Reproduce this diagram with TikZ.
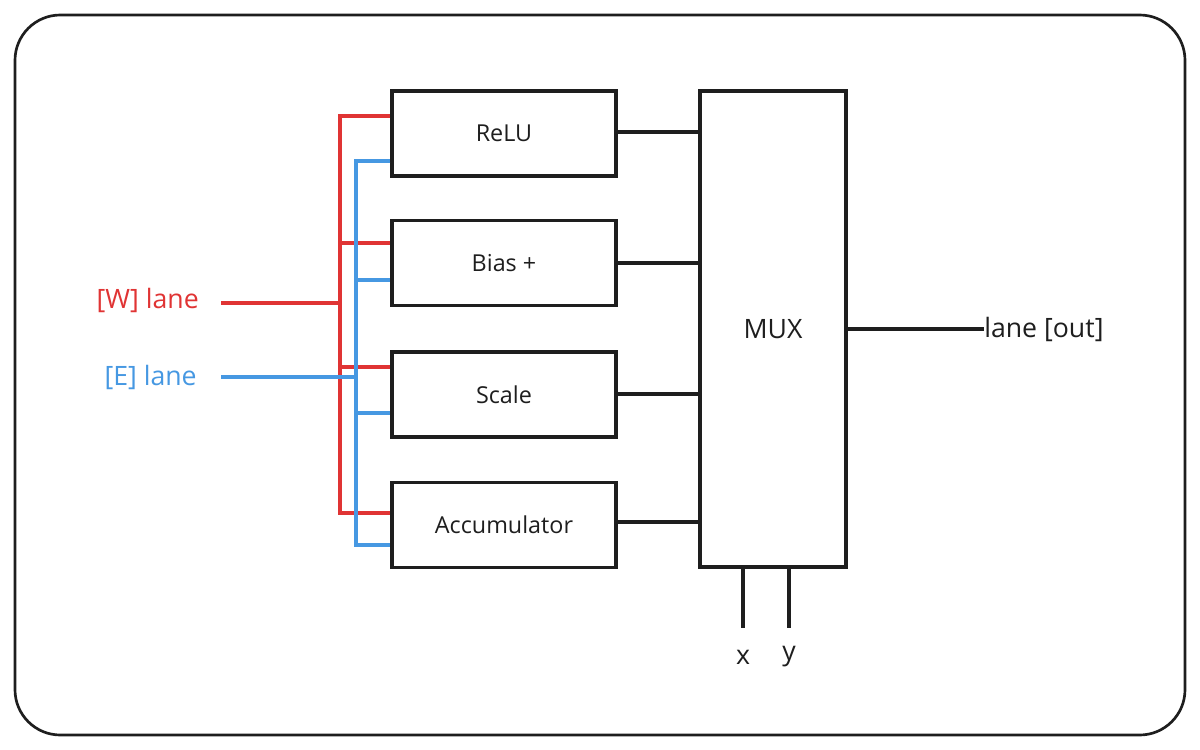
\documentclass[tikz,border=0pt]{standalone}
\usepackage{fontspec}
\setmainfont{Open Sans}
\definecolor{wred}{RGB}{224,52,52}
\definecolor{eblue}{RGB}{70,152,226}
\definecolor{ink}{RGB}{30,30,30}
\begin{document}
\begin{tikzpicture}[x=0.75pt,y=-0.75pt,
  box/.style={draw=ink,line width=2.6pt,minimum width=168pt,minimum height=63.5pt,inner sep=0pt,font=\fontsize{17.5}{20}\selectfont,text=ink},
  mux/.style={draw=ink,line width=2.6pt,minimum width=109.5pt,minimum height=357pt,inner sep=0pt,font=\fontsize{20}{24}\selectfont,text=ink},
  wire/.style={ink,line width=2.6pt},
  wline/.style={wred,line width=2.5pt},
  eline/.style={eblue,line width=2.5pt},
  lbl/.style={font=\fontsize{20}{24}\selectfont,inner sep=0pt}]
\useasboundingbox (0,0) rectangle (1200,750);
\draw[ink,line width=2pt,rounded corners=34pt] (15,15) rectangle (1185,735);

\node[box] (relu) at (504,133.5) {ReLU};
\node[box] (bias) at (504,263) {Bias +};
\node[box] (scale) at (504,394.5) {Scale};
\node[box] (acc) at (504,525) {Accumulator};
\node[mux] (mux) at (773,329) {MUX};

\node[lbl,text=wred,anchor=east] (wlab) at (199,300) {[W] lane};
\node[lbl,text=eblue,anchor=east] (elab) at (197,377) {[E] lane};
\node[lbl,text=ink,anchor=west] (outlab) at (984,329) {lane [out]};
\node[lbl,text=ink] (xlab) at (743,657) {x};
\node[lbl,text=ink] (ylab) at (789,657) {y};

% red bus
\coordinate (ws) at (221,303);
\coordinate (wj) at (340,303);
\coordinate (r1) at (340,116);
\coordinate (r2) at (340,243);
\coordinate (r3) at (340,367);
\coordinate (r4) at (340,513);
\draw[wline] (ws) -- (wj);
\draw[wline] (relu.west |- r1) -- (r1) -- (r4) -- (acc.west |- r4);
\draw[wline] (r2) -- (bias.west |- r2);
\draw[wline] (r3) -- (scale.west |- r3);

% blue bus
\coordinate (es) at (221,377);
\coordinate (ej) at (356,377);
\coordinate (b1) at (356,161);
\coordinate (b2) at (356,280);
\coordinate (b3) at (356,413);
\coordinate (b4) at (356,545);
\draw[eline] (es) -- (ej);
\draw[eline] (relu.west |- b1) -- (b1) -- (b4) -- (acc.west |- b4);
\draw[eline] (b2) -- (bias.west |- b2);
\draw[eline] (b3) -- (scale.west |- b3);

% to mux
\draw[wire] (relu.east |- 0,132) -- (mux.west |- 0,132);
\draw[wire] (bias.east |- 0,263) -- (mux.west |- 0,263);
\draw[wire] (scale.east |- 0,394) -- (mux.west |- 0,394);
\draw[wire] (acc.east |- 0,522) -- (mux.west |- 0,522);

% output
\draw[wire] (mux.east |- outlab.west) -- (outlab.west);

% selects
\coordinate (xe) at (743,628);
\coordinate (ye) at (789,628);
\draw[wire] (mux.south -| xe) -- (xe);
\draw[wire] (mux.south -| ye) -- (ye);
\end{tikzpicture}
\end{document}
